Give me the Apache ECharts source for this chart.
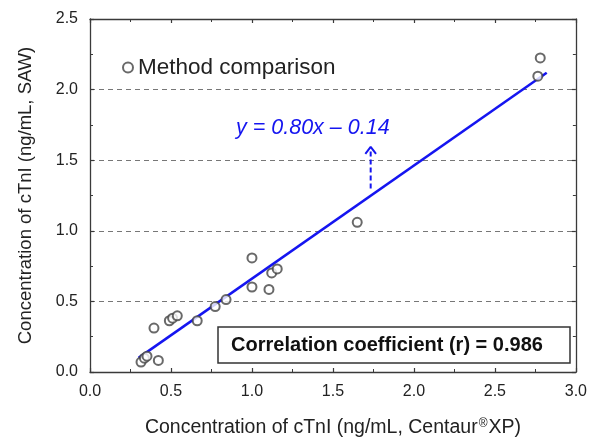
<!DOCTYPE html>
<html>
<head>
<meta charset="utf-8">
<script src="https://cdn.jsdelivr.net/npm/echarts@6/dist/echarts.min.js"></script>
<style>
  html, body { margin: 0; padding: 0; background: #fff; }
  #chart { width: 590px; height: 443px; }
</style>
</head>
<body>
<div id="chart"></div>
<script>
// measured values: Centaur XP (x) vs SAW (y), ng/mL
var centaurX = [0.315, 0.336, 0.352, 0.422, 0.395, 0.490, 0.510, 0.539, 0.662, 0.773,
                0.840, 1.000, 1.000, 1.105, 1.122, 1.156, 1.650, 2.780, 2.765];
var sawY     = [0.070, 0.098, 0.112, 0.082, 0.311, 0.363, 0.381, 0.398, 0.363, 0.463,
                0.513, 0.808, 0.602, 0.585, 0.702, 0.730, 1.060, 2.224, 2.095];

// fitted line end points (y = 0.80x - 0.14)
var fitX = [0.30, 2.82];
var fitY = [0.10, 2.12];

// arrow pointing from the line up to the equation
var arrowX = [1.733, 1.733];
var arrowY = [1.30, 1.58];
var arrowHeadX = [1.700, 1.733, 1.766];
var arrowHeadY = [1.545, 1.594, 1.545];

var xTicks = ['0.0', '0.5', '1.0', '1.5', '2.0', '2.5', '3.0'];
var yTicks = ['0.0', '0.5', '1.0', '1.5', '2.0', '2.5'];

var FONT = '"Liberation Sans", Arial, sans-serif';
var AXIS_COLOR = '#3a3a3a';
var BLUE = '#1515f0';

var points = centaurX.map(function (x, i) { return [x, sawY[i]]; });
var fitLine = fitX.map(function (x, i) { return [x, fitY[i]]; });
var arrowShaft = arrowX.map(function (x, i) { return [x, arrowY[i]]; });
var arrowHead = arrowHeadX.map(function (x, i) { return [x, arrowHeadY[i]]; });

function tickAxis(extra) {
    var base = {
        type: 'value',
        min: 0,
        interval: 0.5,
        axisLine: { show: true, onZero: false, lineStyle: { color: AXIS_COLOR, width: 1.3 } },
        axisTick: { show: true, inside: true, length: 4, lineStyle: { color: AXIS_COLOR, width: 1.2 } },
        minorTick: { show: true, splitNumber: 2, length: 3, lineStyle: { color: AXIS_COLOR, width: 1 } },
        splitLine: { show: false }
    };
    return Object.assign(base, extra);
}

var chart = echarts.init(document.getElementById('chart'));
chart.setOption({
    animation: false,
    backgroundColor: '#fff',
    grid: { left: 90, right: 14, top: 19, bottom: 68 },
    legend: {
        show: true,
        left: 117,
        top: 51,
        icon: 'emptyCircle',
        itemWidth: 10,
        itemHeight: 10,
        itemGap: 8,
        data: ['Method comparison'],
        textStyle: { fontFamily: FONT, fontSize: 22.5, color: '#222' }
    },
    xAxis: [
        tickAxis({
            max: 3,
            position: 'bottom',
            name: '{a|Concentration of cTnI (ng/mL, Centaur}{s|®}{a|XP)}',
            nameLocation: 'middle',
            nameGap: 46,
            nameTextStyle: {
                rich: {
                    a: { fontFamily: FONT, fontSize: 19.5, color: '#222' },
                    s: { fontFamily: FONT, fontSize: 12, color: '#222', verticalAlign: 'top', padding: [0, 1, 8, 1] }
                }
            },
            axisLabel: {
                margin: 12,
                fontFamily: FONT, fontSize: 16, color: '#222',
                formatter: function (v) { return xTicks[Math.round(v / 0.5)]; }
            }
        }),
        tickAxis({ max: 3, position: 'top', axisLabel: { show: false } })
    ],
    yAxis: [
        tickAxis({
            max: 2.5,
            position: 'left',
            name: 'Concentration of cTnI (ng/mL, SAW)',
            nameLocation: 'middle',
            nameGap: 55,
            nameTextStyle: { fontFamily: FONT, fontSize: 18.5, color: '#222' },
            axisLabel: {
                margin: 12,
                fontFamily: FONT, fontSize: 16, color: '#222',
                formatter: function (v) { return yTicks[Math.round(v / 0.5)]; }
            },
            splitLine: { show: true, lineStyle: { color: '#777', width: 1, type: [5, 4] } }
        }),
        tickAxis({ max: 2.5, position: 'right', axisLabel: { show: false } })
    ],
    series: [
        {
            name: 'Method comparison',
            type: 'scatter',
            symbol: 'emptyCircle',
            symbolSize: 9,
            itemStyle: { color: '#444', borderWidth: 1.2 },
            data: points,
            z: 5
        },
        {
            name: 'fit',
            type: 'line',
            data: fitLine,
            showSymbol: false,
            lineStyle: { color: BLUE, width: 2.5 },
            z: 4
        },
        {
            name: 'arrow',
            type: 'line',
            data: arrowShaft,
            showSymbol: false,
            lineStyle: { color: BLUE, width: 2, type: [5, 3] }
        },
        {
            name: 'arrowHead',
            type: 'line',
            data: arrowHead,
            showSymbol: false,
            lineStyle: { color: BLUE, width: 2 }
        }
    ],
    graphic: [
        {
            type: 'text',
            left: 236,
            top: 117,
            style: {
                text: 'y = 0.80x \u2013 0.14',
                fontFamily: FONT,
                fontStyle: 'italic',
                fontSize: 21.5,
                fill: BLUE
            }
        },
        {
            type: 'rect',
            shape: { x: 218, y: 327, width: 352, height: 36 },
            style: { fill: '#fff', stroke: '#333', lineWidth: 1.5 },
            z: 10
        },
        {
            type: 'text',
            x: 387,
            y: 345,
            z: 11,
            style: {
                text: 'Correlation coefficient (r) = 0.986',
                fontFamily: FONT,
                fontWeight: 'bold',
                fontSize: 20,
                fill: '#111',
                align: 'center',
                verticalAlign: 'middle'
            }
        }
    ]
});
</script>
</body>
</html>
